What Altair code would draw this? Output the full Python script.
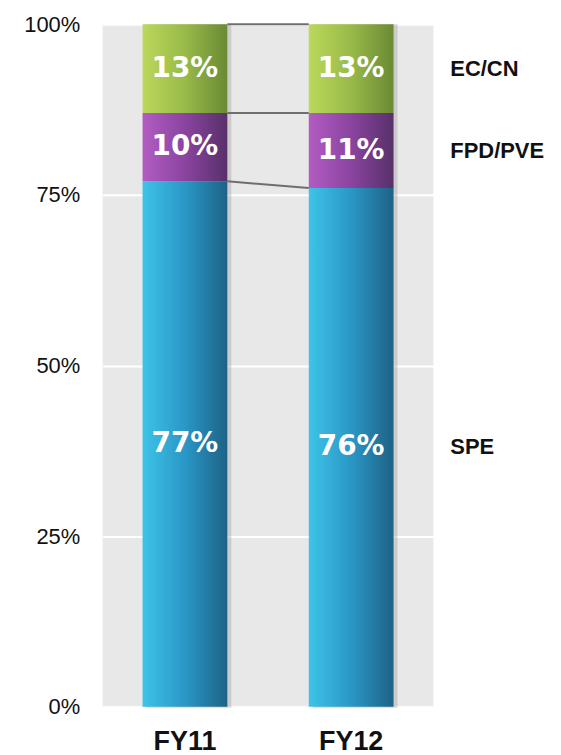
import altair as alt
import pandas as pd

years = ["FY11", "FY12"]
segments = ["SPE", "FPD/PVE", "EC/CN"]
spe = [77, 76]
fpd = [10, 11]
ec = [13, 13]
y_ticks = [0, 25, 50, 75, 100]

rows = []
for i, yr in enumerate(years):
    base = 0
    for seg, vals in zip(segments, [spe, fpd, ec]):
        v = vals[i]
        rows.append({"year": yr, "segment": seg, "value": v, "y0": base,
                     "y1": base + v, "mid": base + v / 2, "label": f"{v}%"})
        base += v
df = pd.DataFrame(rows)

conn = []
for seg in segments:
    a = df[(df.year == years[0]) & (df.segment == seg)].iloc[0]
    b = df[(df.year == years[1]) & (df.segment == seg)].iloc[0]
    conn.append({"from": years[0], "to": years[1], "ya": a.y1, "yb": b.y1})
conn_df = pd.DataFrame(conn)

tot_df = df.groupby("year", as_index=False)["value"].sum().rename(columns={"value": "total"})
tot_df["zero"] = 0

gradients = {
    "SPE": ["#3ec3e8", "#2a97c6", "#1d6286"],
    "FPD/PVE": ["#b25cc2", "#8a44a0", "#58306a"],
    "EC/CN": ["#bcd85c", "#98ba48", "#6a8a34"],
}

xscale = alt.Scale(domain=years, paddingInner=0.49, paddingOuter=0.24)
yscale = alt.Scale(domain=[0, 100])

x_axis = alt.Axis(title=None, labelFont="Liberation Sans", labelFontSize=27,
                  labelFontWeight="bold", labelColor="#111111", labelPadding=22,
                  ticks=False, domain=False, grid=False, labelAngle=0)
y_axis = alt.Axis(title=None, values=y_ticks, labelExpr="datum.value + '%'",
                  labelFont="Liberation Sans", labelFontSize=22, labelColor="#111111",
                  labelPadding=23, ticks=False, domain=False, grid=True,
                  gridColor="white", gridWidth=2)

base = alt.Chart(df)

shadow = alt.Chart(tot_df).mark_bar(color="#a8a8a8", opacity=0.45, xOffset=4, yOffset=1).encode(
    x=alt.X("year:N", scale=xscale, axis=x_axis, sort=years),
    y=alt.Y("zero:Q", scale=yscale, axis=y_axis),
    y2="total:Q",
)

layers = [shadow]
for seg in segments:
    c = gradients[seg]
    grad = alt.LinearGradient(
        gradient="linear", x1=0, y1=0, x2=1, y2=0,
        stops=[alt.GradientStop(color=c[0], offset=0),
               alt.GradientStop(color=c[1], offset=0.5),
               alt.GradientStop(color=c[2], offset=1)])
    layers.append(
        base.transform_filter(alt.datum.segment == seg).mark_bar(color=grad).encode(
            x=alt.X("year:N", scale=xscale, axis=x_axis, sort=years),
            y=alt.Y("y0:Q", scale=yscale, axis=y_axis),
            y2="y1:Q",
        )
    )

connectors = alt.Chart(conn_df).mark_rule(color="#6e6e6e", strokeWidth=2).encode(
    x=alt.X("from:N", scale=xscale, axis=x_axis, bandPosition=1),
    x2=alt.X2("to:N", bandPosition=0),
    y=alt.Y("ya:Q", scale=yscale, axis=y_axis),
    y2="yb:Q",
)

labels = base.mark_text(font="DejaVu Sans", fontSize=28, fontWeight="bold",
                        color="white", baseline="middle", align="center").encode(
    x=alt.X("year:N", scale=xscale, axis=x_axis),
    y=alt.Y("mid:Q", scale=yscale, axis=y_axis),
    text="label:N",
)

seg_labels = base.transform_filter(alt.datum.year == years[-1]).mark_text(
    font="Liberation Sans", fontSize=22, fontWeight="bold", color="#111111",
    align="left", baseline="middle", dx=57).encode(
    x=alt.X("year:N", scale=xscale, axis=x_axis, bandPosition=1),
    y=alt.Y("mid:Q", scale=yscale, axis=y_axis),
    text="segment:N",
)

chart = alt.layer(*layers, connectors, labels, seg_labels).properties(
    width=332, height=685,
    autosize=alt.AutoSizeParams(type="none"),
    padding={"left": 95, "top": 15, "right": 120, "bottom": 45},
    background="white",
).configure_view(fill="#e8e8e8", stroke=None)

chart.save("out.html", embed_options={"renderer": "svg", "actions": False})
